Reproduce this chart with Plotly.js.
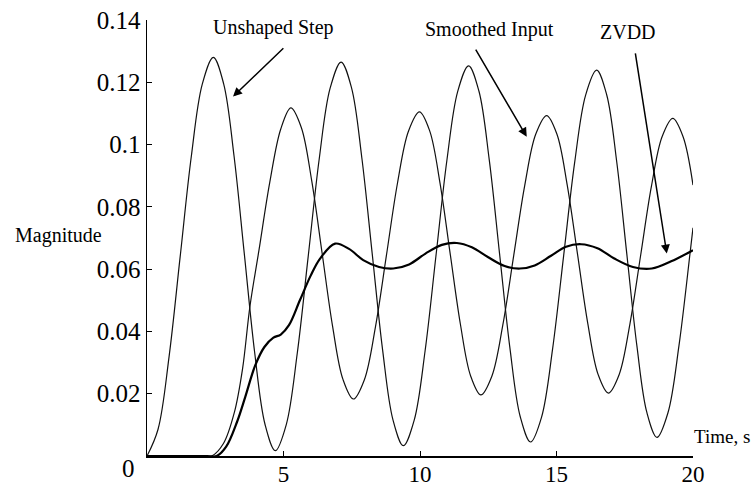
<!DOCTYPE html>
<html>
<head>
<meta charset="utf-8">
<script src="https://cdn.plot.ly/plotly-3.0.1.min.js"></script>
<style>html,body{margin:0;padding:0;background:#fff;}#chart{width:754px;height:490px;}</style>
</head>
<body>
<div id="chart"></div>
<script>
// Unshaped Step response
const unshapedT = [0, 0.405, 0.81, 1.215, 1.62, 2.025, 2.43, 2.808, 3.187, 3.565, 3.943, 4.322, 4.70, 5.102, 5.503, 5.905, 6.307, 6.708, 7.11, 7.49, 7.87, 8.25, 8.63, 9.01, 9.39, 9.788, 10.187, 10.585, 10.983, 11.382, 11.78, 12.158, 12.537, 12.915, 13.293, 13.672, 14.05, 14.453, 14.857, 15.26, 15.663, 16.067, 16.47, 16.838, 17.207, 17.575, 17.943, 18.312, 18.68, 19.083, 19.487, 19.89, 20];
const unshapedV = [0, 0.0086, 0.032, 0.064, 0.096, 0.1194, 0.128, 0.1195, 0.0964, 0.0649, 0.0333, 0.0102, 0.0017, 0.0101, 0.0329, 0.0641, 0.0953, 0.1181, 0.1265, 0.1183, 0.0957, 0.0649, 0.0341, 0.0116, 0.0033, 0.0115, 0.0338, 0.0643, 0.0948, 0.1171, 0.1253, 0.1172, 0.0951, 0.0649, 0.0347, 0.0126, 0.0045, 0.0125, 0.0344, 0.0642, 0.0941, 0.1159, 0.1239, 0.116, 0.0944, 0.0649, 0.0355, 0.0139, 0.006, 0.0139, 0.0355, 0.065, 0.0733];

// Smoothed Input response
const smoothT = [0, 2.0, 2.37, 2.8, 3.2, 3.5, 3.77, 4.1, 4.5, 4.9, 5.27, 5.652, 6.033, 6.415, 6.797, 7.178, 7.56, 7.963, 8.367, 8.77, 9.173, 9.577, 9.98, 10.355, 10.73, 11.105, 11.48, 11.855, 12.23, 12.632, 13.033, 13.435, 13.837, 14.238, 14.64, 15.017, 15.393, 15.77, 16.147, 16.523, 16.9, 17.293, 17.687, 18.08, 18.473, 18.867, 19.26, 19.637, 20];
const smoothV = [0, 0, 0, 0.004, 0.014, 0.028, 0.048, 0.066, 0.088, 0.105, 0.1118, 0.1055, 0.0884, 0.0651, 0.0417, 0.0246, 0.0183, 0.0245, 0.0414, 0.0644, 0.0875, 0.1043, 0.1105, 0.1044, 0.0878, 0.065, 0.0423, 0.0257, 0.0196, 0.0256, 0.042, 0.0645, 0.0869, 0.1033, 0.1093, 0.1033, 0.087, 0.0648, 0.0425, 0.0262, 0.0202, 0.0261, 0.0423, 0.0643, 0.0864, 0.1025, 0.1084, 0.1025, 0.087];

// ZVDD response
const zvddT = [0, 2.2, 2.55, 2.9, 3.3, 3.6, 3.96, 4.3, 4.63, 4.9, 5.2, 5.6, 6.0, 6.34, 6.89, 7.4, 7.92, 8.5, 9.02, 9.6, 10.2, 10.8, 11.35, 11.9, 12.5, 13.1, 13.66, 14.2, 14.8, 15.35, 15.9, 16.5, 17.1, 17.8, 18.49, 19.2, 20];
const zvddV = [0, 0, 0, 0.003, 0.011, 0.019, 0.029, 0.035, 0.038, 0.039, 0.042, 0.05, 0.058, 0.0634, 0.0682, 0.0665, 0.0629, 0.0607, 0.0602, 0.0615, 0.065, 0.0678, 0.0684, 0.067, 0.0638, 0.061, 0.0602, 0.0612, 0.0643, 0.0672, 0.068, 0.0667, 0.0635, 0.0607, 0.0602, 0.0625, 0.0661];

const yTickVals = [0, 0.02, 0.04, 0.06, 0.08, 0.1, 0.12, 0.14];
const yTickText = ['', '0.02', '0.04', '0.06', '0.08', '0.1', '0.12', '0.14'];
const xTickVals = [5, 10, 15, 20];
const xTickText = ['5', '10', '15', '20'];

const serif = 'Liberation Serif, Times New Roman, serif';

const traces = [
  {x: unshapedT, y: unshapedV, mode: 'lines', line: {color: '#111', width: 1.2, shape: 'spline', smoothing: 1}},
  {x: smoothT, y: smoothV, mode: 'lines', line: {color: '#111', width: 1.2, shape: 'spline', smoothing: 1}},
  {x: zvddT, y: zvddV, mode: 'lines', line: {color: '#000', width: 2.2, shape: 'spline', smoothing: 1}}
];

const arrow = {showarrow: true, arrowhead: 2, arrowsize: 1.2, arrowwidth: 1.5, arrowcolor: '#000', text: '', axref: 'x', ayref: 'y', xref: 'x', yref: 'y'};

const layout = {
  width: 754, height: 490,
  margin: {l: 147, r: 61, t: 20, b: 34},
  paper_bgcolor: '#fff', plot_bgcolor: '#fff',
  showlegend: false,
  font: {family: serif, color: '#000', size: 20},
  xaxis: {
    range: [0, 20], tickvals: xTickVals, ticktext: xTickText,
    showgrid: false, zeroline: false, showline: true, linecolor: '#000', linewidth: 1.5,
    ticks: 'inside', ticklen: 5, tickcolor: '#000', tickfont: {family: serif, size: 23},
    ticklabelstandoff: -3
  },
  yaxis: {
    range: [0, 0.14], tickvals: yTickVals, ticktext: yTickText,
    showgrid: false, zeroline: false, showline: true, linecolor: '#000', linewidth: 1.5,
    ticks: 'inside', ticklen: 5, tickcolor: '#000', tickfont: {family: serif, size: 25}
  },
  annotations: [
    {text: '0', xref: 'paper', yref: 'y', x: -0.018, y: 0, yshift: -12, showarrow: false, xanchor: 'right', font: {family: serif, size: 25}},
    {text: 'Magnitude', xref: 'paper', yref: 'paper', x: -0.245, y: 0.505, xanchor: 'left', yanchor: 'middle', showarrow: false, font: {family: serif, size: 20}},
    {text: 'Time, s', xref: 'paper', yref: 'paper', x: 0.998, y: 0.045, xanchor: 'left', yanchor: 'middle', showarrow: false, font: {family: serif, size: 19}},
    {text: 'Unshaped Step', x: 4.62, y: 0.1375, xref: 'x', yref: 'y', showarrow: false, font: {family: serif, size: 20}},
    {text: 'Smoothed Input', x: 12.56, y: 0.137, xref: 'x', yref: 'y', showarrow: false, font: {family: serif, size: 20}},
    {text: 'ZVDD', x: 17.62, y: 0.136, xref: 'x', yref: 'y', showarrow: false, font: {family: serif, size: 20}},
    Object.assign({}, arrow, {x: 3.15, y: 0.1154, ax: 5.05, ay: 0.1314}),
    Object.assign({}, arrow, {x: 13.91, y: 0.1025, ax: 12.01, ay: 0.131}),
    Object.assign({}, arrow, {x: 19.04, y: 0.065, ax: 17.88, ay: 0.1298})
  ]
};

Plotly.newPlot('chart', traces, layout, {displayModeBar: false, staticPlot: true});
</script>
</body>
</html>
